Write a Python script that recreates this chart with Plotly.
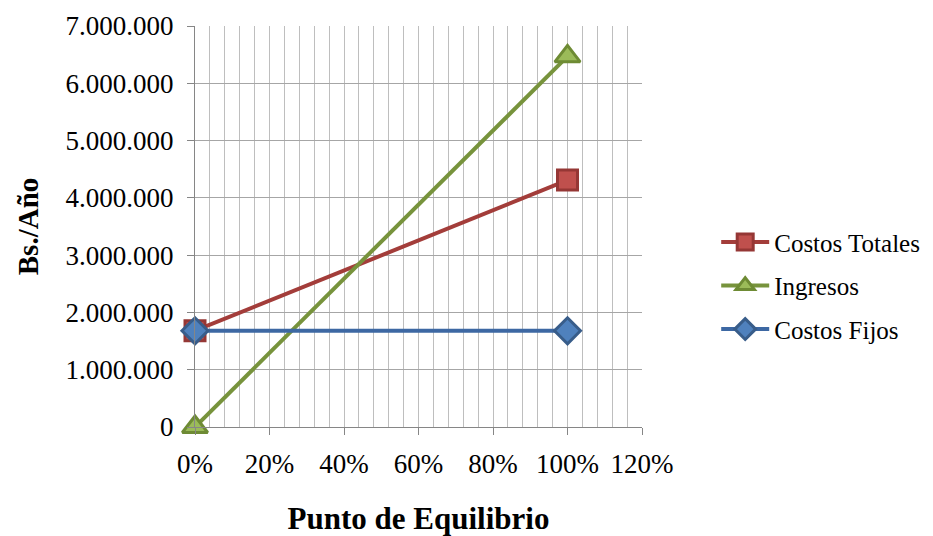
import plotly.graph_objects as go

# Break-even chart data
nivel = [0.0, 1.0]                       # production level (fraction)
costos_totales = [1680000, 4310000]      # Bs./Año
ingresos = [0, 6470000]
costos_fijos = [1680000, 1680000]

series = [
    ("Costos Totales", costos_totales, "square", 20, "#A33D3A", "#C0504D", "#953735"),
    ("Ingresos", ingresos, "triangle-up", 22, "#77933C", "#9BBB59", "#6E8B34"),
    ("Costos Fijos", costos_fijos, "diamond", 20, "#3D68A3", "#4F81BD", "#385D8A"),
]

fig = go.Figure()
for i, (name, vals, sym, size, lcol, fcol, bcol) in enumerate(series):
    fig.add_trace(go.Scatter(
        x=nivel, y=vals, name=name, mode="lines+markers",
        legendgroup=f"g{i}",
        line=dict(color=lcol, width=4),
        marker=dict(symbol=sym, size=size, color=fcol, line=dict(color=bcol, width=3)),
        cliponaxis=False,
    ))

SERIF = "Liberation Serif"


def serif(size, weight=400):
    return dict(family=SERIF, size=size, color="#000000", weight=weight, style="normal")


fig.update_layout(
    width=933, height=536,
    margin=dict(l=195, r=291, t=26, b=109, autoexpand=False),
    paper_bgcolor="white", plot_bgcolor="white",
    separators=",.",
    font=serif(25),
    showlegend=True,
    legend=dict(
        x=1.166, xanchor="left", y=0.352, yanchor="middle",
        font=serif(25),
        itemwidth=48,
        tracegroupgap=8, bgcolor="rgba(0,0,0,0)",
    ),
    xaxis=dict(
        range=[0, 1.2], tickvals=[0, 0.2, 0.4, 0.6, 0.8, 1.0, 1.2],
        tickformat=".0%",
        automargin=False,
        showgrid=True, gridcolor="#BEBEBE", gridwidth=1,
        minor=dict(dtick=0.04, tick0=0, showgrid=True, gridcolor="#BEBEBE", gridwidth=1),
        showline=True, linecolor="#868686", linewidth=1,
        ticks="outside", ticklen=7, tickcolor="#868686",
        ticklabelstandoff=6,
        zeroline=False,
        tickfont=serif(27),
        title=dict(text="Punto de Equilibrio", font=serif(31, 700), standoff=30),
    ),
    yaxis=dict(
        range=[0, 7000000], dtick=1000000, tickformat=",.0f",
        automargin=False,
        showgrid=True, gridcolor="#A6A6A6", gridwidth=1,
        showline=True, linecolor="#868686", linewidth=1,
        ticks="outside", ticklen=7, tickcolor="#868686",
        ticklabelstandoff=8,
        zeroline=False,
        tickfont=serif(27),
        title=dict(text="Bs./Año", font=serif(29, 700), standoff=18),
    ),
)

fig.write_html("out.html")
